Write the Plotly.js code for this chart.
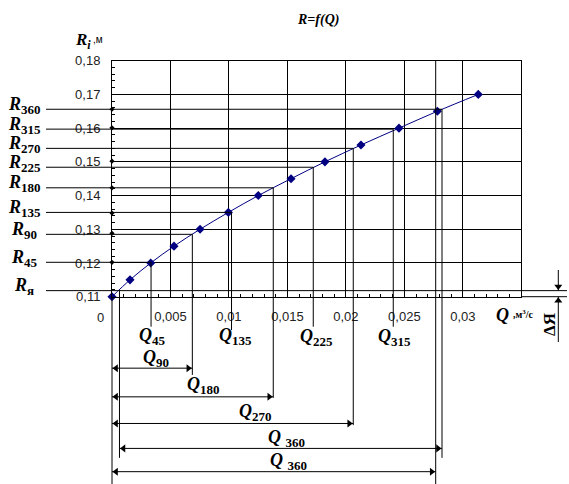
<!DOCTYPE html>
<html><head><meta charset="utf-8">
<script src="https://cdn.plot.ly/plotly-3.0.1.min.js"></script>
<style>html,body{margin:0;padding:0;background:#fff}</style>
</head><body>
<div id="chart" style="width:569px;height:484px"></div>
<script>
// ---- data ----
const flowQ   = [0, 0.00154, 0.00331, 0.0053, 0.00753, 0.00995, 0.01251, 0.01531, 0.01821, 0.02129, 0.02454, 0.02782, 0.03132];
const radiusR = [0.110, 0.115, 0.120, 0.125, 0.130, 0.135, 0.140, 0.145, 0.150, 0.155, 0.160, 0.165, 0.170];

const angleLabels = ['я', '45', '90', '135', '180', '225', '270', '315', '360'];
const levelR      = [0.1118, 0.1202, 0.1285, 0.1350, 0.1423, 0.1484, 0.1540, 0.1597, 0.1656];
const levelQ      = [0.00064, 0.00334, 0.00687, 0.01022, 0.01379, 0.01721, 0.02063, 0.02405, 0.02822];
const dropEndR    = [0.0622, 0.1011, 0.0868, 0.1001, 0.0800, 0.1011, 0.0719, 0.1011, 0.0622];

const axisDotsR = [0.1202, 0.1288, 0.1348, 0.1423, 0.1502, 0.1601, 0.1656];

// dimension arrows (Q90, Q180, Q270, Q360, Q360)
const arrowStartQ = [0, 0, 0, 0.00064, 0];
const arrowEndQ   = [0.00687, 0.01379, 0.02063, 0.02822, 0.02768];
const arrowR      = [0.0888, 0.0803, 0.0724, 0.0650, 0.0581];
const q360Full    = 0.02768;

const xTickVals = [0, 0.005, 0.01, 0.015, 0.02, 0.025, 0.03, 0.035];
const xTickText = ['', '0,005', '0,01', '0,015', '0,02', '0,025', '0,03', ''];
const yTickVals = [0.11, 0.12, 0.13, 0.14, 0.15, 0.16, 0.17, 0.18];
const yTickText = ['0,11', '0,12', '0,13', '0,14', '0,15', '0,16', '0,17', '0,18'];

// ---- layout geometry ----
const W = 569, H = 484;
const PL = 112, PR = 521.3, PT = 60.7, PB = 296.7;
const xr = [0, 0.035], yr = [0.11, 0.18];
const kx = (PR - PL) / (xr[1] - xr[0]);
const ky = (PB - PT) / (yr[1] - yr[0]);
const x2r = [xr[0] - PL / kx, xr[1] + (W - PR) / kx];
const y2r = [yr[0] - (H - PB) / ky, yr[1] + PT / ky];
const qAt = px => xr[0] + (px - PL) / kx;
const rAt = py => yr[0] + (PB - py) / ky;
const leftQ = qAt(46), rightQ = qAt(567), bottomR = rAt(484);

const serif = "'Liberation Serif', 'Times New Roman', serif";
const sans = "'Liberation Sans', Arial, sans-serif";
const ln = {color: 'black', width: 1};

const shapes = [];
function seg(x0, y0, x1, y1) {
  shapes.push({type: 'line', xref: 'x2', yref: 'y2', x0, y0, x1, y1, line: ln, layer: 'above'});
}
levelR.forEach((r, i) => {
  seg(leftQ, r, i === 0 ? rightQ : levelQ[i], r);
  seg(levelQ[i], r, levelQ[i], dropEndR[i]);
});
seg(0, yr[0], 0, bottomR);
seg(q360Full, yr[1], q360Full, bottomR);
seg(xr[1], yr[0], rightQ, yr[0]);

// dimension arrow shafts
arrowEndQ.forEach((q, i) => seg(arrowStartQ[i], arrowR[i], q, arrowR[i]));
// ΔЯ arrow shafts
const dQ = qAt(558.3);
const dTopR = rAt(270), dBotR = rAt(342);
seg(dQ, dTopR, dQ, levelR[0]);
seg(dQ, dBotR, dQ, yr[0]);

// arrowheads as triangle markers (tip offset of a size-7 triangle)
const headSize = 7;
const tipPx = (headSize / 2) * 2 / Math.sqrt(3);
const headX = [], headY = [], headSym = [];
arrowEndQ.forEach((q, i) => {
  headX.push(arrowStartQ[i] + tipPx / kx); headY.push(arrowR[i]); headSym.push('triangle-left');
  headX.push(q - tipPx / kx); headY.push(arrowR[i]); headSym.push('triangle-right');
});
headX.push(dQ); headY.push(levelR[0] + tipPx / ky); headSym.push('triangle-down');
headX.push(dQ); headY.push(yr[0] - tipPx / ky); headSym.push('triangle-up');

const annotations = [];
function txt(text, px, py, size, family, extra) {
  annotations.push(Object.assign({xref: 'paper', yref: 'paper', x: px / W, y: 1 - py / H,
    xanchor: 'center', yanchor: 'middle', text, showarrow: false,
    font: {family, size, color: 'black'}}, extra || {}));
}
const subTxt = (s, px) => '<sub><b><span style="font-size:' + px + 'px">' + s + '</span></b></sub>';
// R labels
levelR.forEach((r, i) => {
  annotations.push({xref: 'paper', yref: 'y2', x: 24 / W, y: r, yshift: 4,
    xanchor: 'center', yanchor: 'middle', showarrow: false,
    text: '<b><i>R</i></b>' + subTxt(angleLabels[i], 13),
    font: {family: serif, size: 18, color: 'black'}});
});
// Q labels
const qLabelPos = [
  ['45', 152, 336], ['135', 235, 336], ['225', 316, 337], ['315', 394, 337],
  ['90', 156, 358], ['180', 203, 385], ['270', 255, 412], ['360', 286, 438], ['360', 288, 461]
];
qLabelPos.forEach(([s, px, py]) => {
  const sp = s === '360' ? ' ' : '';
  txt('<b><i>Q</i></b>' + sp + subTxt(s, 13), px, py, 18, serif);
});
txt('<b><i>R=f(Q)</i></b>', 317.5, 20, 14, serif);
txt('<b><i>R</i></b>' + '<sub><b><i><span style="font-size:12px">i</span></i></b></sub>', 82.5, 41, 17, serif);
txt(',м', 97.5, 40, 10, sans);
txt('<b><i>Q</i></b>', 502.5, 315, 18, serif);
txt('<b>,м<sup>3</sup>/с</b>', 523.5, 314, 10, serif);
txt('<b>ΔЯ</b>', 549, 325, 17, serif, {textangle: -90});
txt('0', 100.5, 317, 13, sans, {font: {family: sans, size: 13, color: '#222'}});

const traces = [
  {x: flowQ, y: radiusR, xaxis: 'x', yaxis: 'y', type: 'scatter', mode: 'lines+markers',
   line: {color: '#000080', width: 1, shape: 'spline', smoothing: 1},
   marker: {symbol: 'diamond', size: 7, color: '#000080'}, cliponaxis: false, hoverinfo: 'none'},
  {x: axisDotsR.map(() => 0), y: axisDotsR, xaxis: 'x2', yaxis: 'y2', type: 'scatter', mode: 'markers',
   marker: {symbol: 'diamond', size: 4, color: 'black'}, hoverinfo: 'none'},
  {x: headX, y: headY, xaxis: 'x2', yaxis: 'y2', type: 'scatter', mode: 'markers',
   marker: {symbol: headSym, size: headSize, color: 'black', line: {width: 0}}, hoverinfo: 'none'}
];

const axBase = {showline: true, linecolor: 'black', linewidth: 1, mirror: true,
  showgrid: true, gridcolor: 'black', gridwidth: 1, zeroline: false, fixedrange: true,
  ticks: 'inside', ticklen: 3, tickcolor: 'black',
  tickfont: {family: sans, size: 13, color: '#222'}};

const layout = {
  width: W, height: H, margin: {l: 0, r: 0, t: 0, b: 0, pad: 0},
  paper_bgcolor: '#fff', plot_bgcolor: 'rgba(0,0,0,0)', showlegend: false,
  xaxis: Object.assign({}, axBase, {domain: [PL / W, PR / W], range: xr, anchor: 'y',
    tickmode: 'array', tickvals: xTickVals, ticktext: xTickText, ticklabelstandoff: 8,
    minor: {tickmode: 'linear', tick0: 0, dtick: 0.001, ticks: 'inside', ticklen: 3, tickcolor: 'black', showgrid: false}}),
  yaxis: Object.assign({}, axBase, {domain: [(H - PB) / H, (H - PT) / H], range: yr, anchor: 'x',
    tickmode: 'array', tickvals: yTickVals, ticktext: yTickText, ticklabelstandoff: 8,
    minor: {tickmode: 'linear', tick0: 0.11, dtick: 0.002, ticks: 'inside', ticklen: 3, tickcolor: 'black', showgrid: false}}),
  xaxis2: {domain: [0, 1], range: x2r, anchor: 'y2', visible: false, fixedrange: true},
  yaxis2: {domain: [0, 1], range: y2r, anchor: 'x2', visible: false, fixedrange: true},
  shapes, annotations
};

Plotly.newPlot('chart', traces, layout, {staticPlot: true, displayModeBar: false});
</script>
</body></html>
